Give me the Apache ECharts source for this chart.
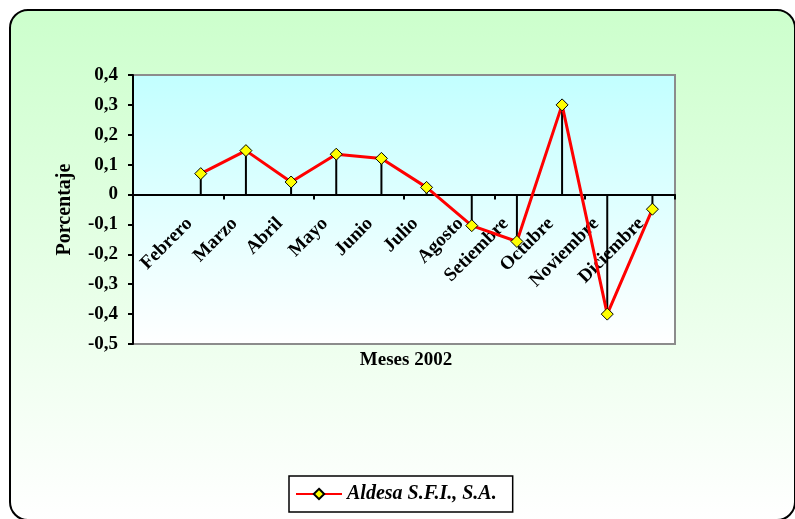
<!DOCTYPE html>
<html>
<head>
<meta charset="utf-8">
<script src="https://cdn.jsdelivr.net/npm/echarts@6/dist/echarts.min.js"></script>
<style>
  html, body { margin: 0; padding: 0; background: #ffffff; }
  #chart { width: 795px; height: 519px; }
</style>
</head>
<body>
<div id="chart"></div>
<script>
// Monthly percentage change, 2002 (first slot left empty)
const months = ['', 'Febrero', 'Marzo', 'Abril', 'Mayo', 'Junio', 'Julio',
                'Agosto', 'Setiembre', 'Octubre', 'Noviembre', 'Diciembre'];
const aldesa = [null, 0.07, 0.147, 0.042, 0.135, 0.121, 0.024,
                -0.104, -0.157, 0.30, -0.40, -0.049];
const seriesName = 'Aldesa S.F.I., S.A.';
const yMin = -0.5, yMax = 0.4, yStep = 0.1;

const serif = '"Times New Roman", "Liberation Serif", serif';
const labelFont = 'bold 19px ' + serif;

const chart = echarts.init(document.getElementById('chart'), null, { renderer: 'canvas' });

chart.setOption({
  animation: false,
  backgroundColor: 'transparent',
  title: {
    text: 'Meses 2002',
    left: 406, top: 351,
    textAlign: 'center',
    padding: 0,
    textStyle: { fontFamily: serif, fontWeight: 'bold', fontSize: 19, color: '#000' }
  },
  graphic: {
    elements: [{
      id: 'frame',
      type: 'rect',
      z: -100,
      silent: true,
      shape: { x: 10, y: 10, width: 785, height: 510, r: 18 },
      style: {
        fill: {
          type: 'linear', x: 0, y: 0, x2: 0, y2: 1,
          colorStops: [
            { offset: 0, color: '#ccffcc' },
            { offset: 0.85, color: '#f8fff8' },
            { offset: 1, color: '#ffffff' }
          ]
        },
        stroke: '#000000',
        lineWidth: 2
      }
    }]
  },
  grid: {
    left: 133, right: 120, top: 75, bottom: 175,
    outerBoundsMode: 'none',
    containLabel: false,
    show: true,
    borderColor: '#8c8c8c',
    borderWidth: 2,
    backgroundColor: {
      type: 'linear', x: 0, y: 0, x2: 0, y2: 1,
      colorStops: [
        { offset: 0, color: '#c2ffff' },
        { offset: 1, color: '#ffffff' }
      ]
    }
  },
  legend: {
    data: [seriesName],
    left: 289, top: 476,
    padding: [8, 16, 8, 6],
    backgroundColor: '#ffffff',
    borderColor: '#000000',
    borderWidth: 1.5,
    borderRadius: 0,
    itemWidth: 46, itemHeight: 13,
    itemGap: 0,
    textStyle: {
      fontFamily: serif, fontStyle: 'italic', fontWeight: 'bold',
      fontSize: 20, color: '#000000'
    }
  },
  xAxis: {
    type: 'category',
    data: months,
    boundaryGap: true,
    axisLine: { onZero: true, lineStyle: { color: '#000000', width: 2 } },
    axisTick: { show: true, length: 5, lineStyle: { color: '#000000', width: 2 } },
    axisLabel: { show: false },
    splitLine: { show: false }
  },
  yAxis: {
    type: 'value',
    min: yMin, max: yMax, interval: yStep,
    name: 'Porcentaje',
    nameLocation: 'middle',
    nameGap: 58,
    nameRotate: 90,
    nameTextStyle: { fontFamily: serif, fontWeight: 'bold', fontSize: 20, color: '#000' },
    axisLine: { show: true, lineStyle: { color: '#000000', width: 2 } },
    axisTick: { show: true, length: 5, lineStyle: { color: '#000000', width: 2 } },
    axisLabel: {
      margin: 15,
      fontFamily: serif, fontWeight: 'bold', fontSize: 19, color: '#000000',
      formatter: function (v) {
        const r = Math.round(v * 10) / 10;
        return r === 0 ? '0' : r.toFixed(1).replace('.', ',');
      }
    },
    splitLine: { show: false }
  },
  series: [
    {
      // drop lines from each point to the zero line
      name: 'drop',
      type: 'bar',
      data: aldesa,
      barWidth: 2,
      itemStyle: { color: '#000000' },
      silent: true,
      z: 2
    },
    {
      name: seriesName,
      type: 'line',
      data: aldesa,
      symbol: 'diamond',
      symbolSize: 12,
      showAllSymbol: true,
      connectNulls: false,
      lineStyle: { color: '#ff0000', width: 3 },
      itemStyle: { color: '#ffff00', borderColor: '#000000', borderWidth: 1 },
      z: 3
    }
  ]
});

// Month names hang from the zero line, slanted at 45 degrees,
// each one ending just under its category; lines are drawn over them.
const monthLabels = [];
months.forEach(function (name, i) {
  if (!name) return;
  const p = chart.convertToPixel({ xAxisIndex: 0, yAxisIndex: 0 }, [i, 0]);
  monthLabels.push({
    id: 'month-' + i,
    type: 'text',
    silent: true,
    z: 1,
    x: p[0],
    y: p[1] + 15,
    rotation: Math.PI / 4,
    style: {
      text: name,
      x: -16,
      y: 0,
      font: labelFont,
      fill: '#000000',
      align: 'right',
      verticalAlign: 'middle',
      textAlign: 'right',
      textVerticalAlign: 'middle'
    }
  });
});
chart.setOption({ graphic: { elements: monthLabels } });
</script>
</body>
</html>
